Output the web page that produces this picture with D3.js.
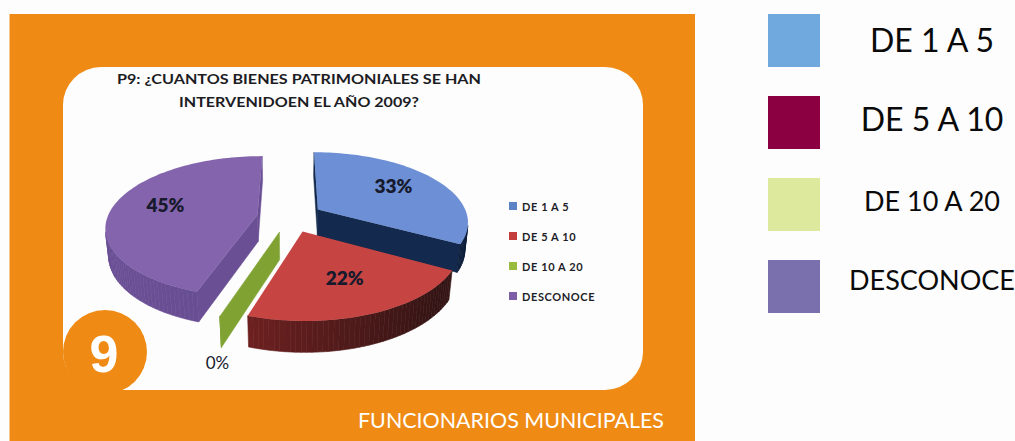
<!DOCTYPE html>
<html>
<head>
<meta charset="utf-8">
<script src="https://cdn.jsdelivr.net/npm/d3@7"></script>
<style>
    body { margin: 0; background: #fdfdfd; }
    svg { display: block; font-family: Lato, "Open Sans", sans-serif; }
</style>
</head>
<body>
<svg id="chart" width="1015" height="441"></svg>
<script>
/* =========================================================
   Data
   ========================================================= */

const CATEGORIES  = ["DE 1 A 5", "DE 5 A 10", "DE 10 A 20", "DESCONOCE"];
const SHARES      = [33, 22, 0, 45];
const PCT_LABELS  = ["33%", "22%", "0%", "45%"];
const TITLE_LINES = ["P9: ¿CUANTOS BIENES PATRIMONIALES SE HAN", "INTERVENIDOEN EL AÑO 2009?"];
const FOOTER      = "FUNCIONARIOS MUNICIPALES";
const BADGE       = "9";

/* =========================================================
   Colours
   ========================================================= */

const TOP_COLORS    = ["#6d8fd5", "#c64442", "#86a838", "#8465ad"];
const SIDE_LIGHT    = ["#13294d", "#8e2727", "#7fa232", "#6a4f95"];
const SIDE_DARK     = ["#0c1e3b", "#341414", "#7fa232", "#5f4687"];
const KEY_COLORS    = ["#5a84c6", "#c23d3c", "#9bbb3e", "#7c5fa6"];
const BIG_COLORS    = ["#6fa9de", "#8b0040", "#dde99d", "#7b70ae"];
const ORANGE        = "#ef8b15";

/* =========================================================
   Layout
   ========================================================= */

const VIEW = { cx: 290, cy: 217, r: 150, sinE: 0.46, focal: 800, depth: 31, explode: 33 };
VIEW.cosE = Math.sqrt(1 - VIEW.sinE * VIEW.sinE);
const CAM = [0, VIEW.focal * VIEW.cosE, VIEW.focal * VIEW.sinE];

const svg = d3.select("#chart");

// orange card + white inner panel
svg.append("rect").attr("x", 9.5).attr("y", 14).attr("width", 685.5).attr("height", 427).attr("fill", ORANGE);
svg.append("rect").attr("x", 63).attr("y", 67).attr("width", 580).attr("height", 323)
    .attr("rx", 38).attr("fill", "#fdfdfd");

/* =========================================================
   3D projection helpers
   ========================================================= */

function project(p) {
    const [u, w, h] = p;
    const z = w * VIEW.cosE + h * VIEW.sinE;
    const s = VIEW.focal / (VIEW.focal - z);
    return [VIEW.cx + u * s, VIEW.cy + (w * VIEW.sinE - h * VIEW.cosE) * s];
}

function facing(n, p) {
    return n[0] * (CAM[0] - p[0]) + n[1] * (CAM[1] - p[1]) + n[2] * (CAM[2] - p[2]) > 0;
}

function polyPath(pts) {
    return "M" + pts.map(p => project(p).map(v => v.toFixed(2)).join(",")).join("L") + "Z";
}

const arcs = d3.pie().sort(null).value(d => d)(SHARES);

const slices = arcs.map((a, i) => {
    const mid = (a.startAngle + a.endAngle) / 2;
    const ou = VIEW.explode * Math.sin(mid);
    const ow = -VIEW.explode * Math.cos(mid);
    const disc = (ang, r, h) => [ou + r * Math.sin(ang), ow - r * Math.cos(ang), h];
    return { i, a, mid, ow, disc };
});

const xShade = d3.scaleLinear()
    .domain([VIEW.cx - VIEW.r, VIEW.cx + VIEW.r])
    .range([0, 1])
    .clamp(true);

const gPie = svg.append("g");

// back slices first
slices.slice().sort((p, q) => p.ow - q.ow).forEach(sl => {
    const { i, a, disc } = sl;
    const R = VIEW.r, T = VIEW.depth;
    const g = gPie.append("g");
    const shade = d3.interpolateRgb(SIDE_LIGHT[i], SIDE_DARK[i]);

    // radial walls
    const walls = [
        { ang: a.startAngle, n: [-Math.cos(a.startAngle), -Math.sin(a.startAngle), 0] },
        { ang: a.endAngle,   n: [ Math.cos(a.endAngle),   Math.sin(a.endAngle),   0] }
    ];
    walls.forEach(wl => {
        const pts = [disc(wl.ang, 0, 0), disc(wl.ang, R, 0), disc(wl.ang, R, -T), disc(wl.ang, 0, -T)];
        const c = disc(wl.ang, R / 2, -T / 2);
        if (!facing(wl.n, c)) return;
        g.append("path").attr("d", polyPath(pts))
            .attr("fill", SIDE_LIGHT[i]).attr("stroke", SIDE_LIGHT[i]).attr("stroke-width", 0.5);
    });

    // outer rim
    const steps = Math.max(2, Math.ceil((a.endAngle - a.startAngle) / 0.03));
    for (let k = 0; k < steps; k++) {
        const t0 = a.startAngle + (a.endAngle - a.startAngle) * k / steps;
        const t1 = a.startAngle + (a.endAngle - a.startAngle) * (k + 1) / steps;
        const tm = (t0 + t1) / 2;
        const n = [Math.sin(tm), -Math.cos(tm), 0];
        if (!facing(n, disc(tm, R, -T / 2))) continue;
        const pts = [disc(t0, R, 0), disc(t1, R, 0), disc(t1, R, -T), disc(t0, R, -T)];
        const col = shade(xShade(project(disc(tm, R, 0))[0]));
        g.append("path").attr("d", polyPath(pts))
            .attr("fill", col).attr("stroke", col).attr("stroke-width", 0.6);
    }

    // top face
    if (a.endAngle > a.startAngle) {
        const pts = [disc(0, 0, 0)];
        for (let k = 0; k <= steps; k++) {
            pts.push(disc(a.startAngle + (a.endAngle - a.startAngle) * k / steps, R, 0));
        }
        g.append("path").attr("d", polyPath(pts)).attr("fill", TOP_COLORS[i]);
    }
});

// percentage labels
slices.forEach(sl => {
    const zero = SHARES[sl.i] === 0;
    const pos = zero
        ? project(sl.disc(sl.mid, VIEW.r, -VIEW.depth))
        : project(sl.disc(sl.mid, VIEW.r * 0.64, 0));
    svg.append("text")
        .attr("x", zero ? pos[0] - 4 : pos[0])
        .attr("y", zero ? pos[1] + 22 : pos[1] + 4)
        .attr("text-anchor", "middle")
        .attr("font-size", zero ? 17 : 19)
        .attr("font-weight", zero ? 400 : 800)
        .attr("fill", "#161a2c")
        .text(PCT_LABELS[sl.i]);
});

/* =========================================================
   Title
   ========================================================= */

const titleWidths = [364, 240];
TITLE_LINES.forEach((t, k) => {
    svg.append("text")
        .attr("x", 299).attr("y", 84 + k * 23)
        .attr("text-anchor", "middle")
        .attr("font-size", 14).attr("font-weight", 700)
        .attr("fill", "#1c1c24")
        .attr("textLength", titleWidths[k]).attr("lengthAdjust", "spacingAndGlyphs")
        .text(t);
});

/* =========================================================
   Inner legend
   ========================================================= */

const keyY = d3.scalePoint().domain(CATEGORIES).range([206, 296]);
const key = svg.append("g").selectAll("g").data(CATEGORIES).join("g")
    .attr("transform", d => `translate(509,${keyY(d)})`);
key.append("rect").attr("x", 0).attr("y", -4).attr("width", 8).attr("height", 8)
    .attr("fill", (d, i) => KEY_COLORS[i]);
key.append("text").attr("x", 13).attr("y", 4.5)
    .attr("font-size", 11).attr("font-weight", 700).attr("fill", "#1e1e28")
    .attr("letter-spacing", 0.6)
    .text(d => d);

/* =========================================================
   Badge and footer
   ========================================================= */

svg.append("circle").attr("cx", 105).attr("cy", 352).attr("r", 42).attr("fill", ORANGE);
svg.append("text").attr("x", 104).attr("y", 372)
    .attr("text-anchor", "middle")
    .attr("font-family", "'Liberation Sans', Arial, sans-serif")
    .attr("font-size", 52).attr("font-weight", 700).attr("fill", "#ffffff")
    .text(BADGE);

svg.append("text").attr("x", 358).attr("y", 428)
    .attr("font-size", 21).attr("fill", "#ffffff")
    .attr("textLength", 306).attr("lengthAdjust", "spacingAndGlyphs")
    .text(FOOTER);

/* =========================================================
   Big legend (right)
   ========================================================= */

const BIG_FONT = [32, 32, 27, 27];
const bigSquareY = d3.scaleLinear().domain([0, 3]).range([14, 260]);
const bigTextY   = d3.scaleLinear().domain([0, 3]).range([52, 290]);

const big = svg.append("g").selectAll("g").data(CATEGORIES).join("g");
big.append("rect")
    .attr("x", 768).attr("y", (d, i) => bigSquareY(i))
    .attr("width", 52).attr("height", 53)
    .attr("fill", (d, i) => BIG_COLORS[i]);
big.append("text")
    .attr("x", 932).attr("y", (d, i) => bigTextY(i))
    .attr("text-anchor", "middle")
    .attr("font-size", (d, i) => BIG_FONT[i])
    .attr("fill", "#0a0a0a")
    .text(d => d);
</script>
</body>
</html>
